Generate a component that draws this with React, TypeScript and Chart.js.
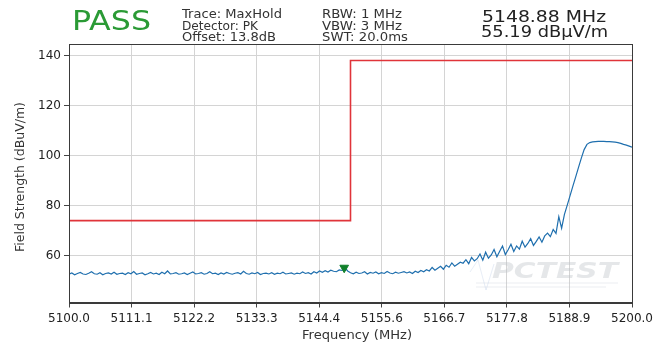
import React, { useEffect, useRef } from "react";
import { Chart, registerables } from "chart.js";

Chart.register(...registerables);

// ---- data ----
const FREQ_START = 5100; // MHz, first sweep point
const FREQ_STEP = 0.5; // MHz between sweep points
const TRACE_LEVEL = [
  // 5100.0 - 5109.5
  52.6, 53.1, 52.4, 52.9, 53.3, 52.7, 52.5, 53.0, 53.6, 52.8, 52.6, 53.2, 52.4, 52.9, 53.1, 52.7, 53.4, 52.6, 52.9, 53.0,
  // 5110.0 - 5119.5
  52.5, 53.2, 52.8, 53.7, 52.6, 52.9, 53.1, 52.4, 52.8, 53.3, 52.7, 53.0, 52.5, 53.4, 52.8, 53.9, 52.7, 52.9, 53.2, 52.6,
  // 5120.0 - 5129.5
  52.8, 53.1, 52.5, 53.0, 53.5, 52.7, 52.9, 53.2, 52.6, 52.9, 53.6, 52.8, 53.0, 52.5, 53.1, 52.7, 53.3, 52.9, 52.6, 53.0,
  // 5130.0 - 5139.5
  53.2, 52.7, 53.8, 52.9, 52.6, 53.1, 52.8, 53.3, 52.5, 52.9, 53.0, 52.7, 53.2, 52.6, 53.0, 52.8, 53.4, 52.7, 52.9, 53.1,
  // 5140.0 - 5149.5
  52.6, 53.0, 52.8, 53.5, 52.9, 53.2, 52.7, 53.6, 53.1, 53.9, 53.4, 54.0, 53.5, 54.2, 53.8, 53.6, 54.3, 54.1, 55.19, 53.9,
  // 5150.0 - 5159.5
  53.2, 52.8, 53.4, 52.9, 53.1, 53.6, 52.7, 53.3, 53.0, 53.5, 52.8, 53.2, 52.9, 53.7, 53.1, 52.8, 53.4, 53.0, 53.3, 53.6,
  // 5160.0 - 5169.5
  53.1, 53.5, 52.9, 53.8, 53.3, 54.1, 53.6, 54.4, 53.9, 55.3, 54.2, 55.0, 55.8, 54.6, 56.2, 55.4, 57.1, 55.8, 56.6, 57.4,
  // 5170.0 - 5179.5
  57.0, 58.4, 56.8, 59.3, 57.9, 58.8, 60.7, 58.2, 61.4, 59.0, 60.3, 62.5, 59.6, 61.8, 63.9, 60.5, 62.4, 64.6, 61.7, 63.9,
  // 5180.0 - 5189.5
  62.6, 65.8, 63.4, 64.9, 66.8, 64.1, 65.7, 67.5, 65.4, 67.9, 69.0, 67.6, 70.5, 68.9, 75.6, 71.0, 76.5, 80.2, 84.0, 87.8,
  // 5190.0 - 5199.5
  91.5, 95.3, 99.0, 102.4, 104.5, 105.2, 105.5, 105.6, 105.7, 105.7, 105.7, 105.6, 105.6, 105.5, 105.4, 105.2, 104.9, 104.5, 104.2, 103.8,
  // 5200.0
  103.4,
];

const LIMIT_FREQ = [5100, 5150, 5150, 5200];
const LIMIT_LEVEL = [74, 74, 138, 138];

const MARKER_FREQ = [5148.88];
const MARKER_LEVEL = [55.19];

const X_TICKS = [5100, 5111.11, 5122.22, 5133.33, 5144.44, 5155.56, 5166.67, 5177.78, 5188.89, 5200];
const X_TICK_LABELS = ["5100.0", "5111.1", "5122.2", "5133.3", "5144.4", "5155.6", "5166.7", "5177.8", "5188.9", "5200.0"];
const Y_TICKS = [60, 80, 100, 120, 140];

const HEADER_LEFT = ["Trace: MaxHold", "Detector: PK", "Offset: 13.8dB"];
const HEADER_MID = ["RBW: 1 MHz", "VBW: 3 MHz", "SWT: 20.0ms"];
const MARKER_TEXT = ["5148.88 MHz", "55.19 dBµV/m"];
const VERDICT = "PASS";

const FONT = '"DejaVu Sans", sans-serif';

function fitText(
  ctx: CanvasRenderingContext2D,
  text: string,
  x: number,
  y: number,
  width: number,
  size: number,
  color: string,
  opts: { align?: "left" | "center"; rotate?: boolean; style?: string } = {}
) {
  ctx.save();
  ctx.font = `${opts.style || ""} ${size}px ${FONT}`;
  const w = ctx.measureText(text).width;
  ctx.translate(x, y);
  if (opts.rotate) ctx.rotate(-Math.PI / 2);
  ctx.scale(width / w, 1);
  ctx.fillStyle = color;
  ctx.textBaseline = "alphabetic";
  ctx.textAlign = opts.align === "center" ? "center" : "left";
  ctx.fillText(text, 0, 0);
  ctx.restore();
}

const decorPlugin = {
  id: "decor",
  beforeDatasetsDraw(chart: any) {
    const ctx: CanvasRenderingContext2D = chart.ctx;
    // watermark
    ctx.save();
    fitText(ctx, "PCTEST", 492, 278, 126, 21, "rgba(190,194,200,0.4)", { style: "italic bold" });
    ctx.strokeStyle = "rgba(190,194,205,0.3)";
    ctx.lineWidth = 1;
    ctx.beginPath();
    ctx.moveTo(476, 283);
    ctx.lineTo(618, 283);
    ctx.moveTo(476, 287);
    ctx.lineTo(606, 287);
    ctx.stroke();
    ctx.strokeStyle = "rgba(160,185,220,0.25)";
    ctx.beginPath();
    ctx.moveTo(470, 272);
    ctx.lineTo(478, 260);
    ctx.lineTo(486, 290);
    ctx.lineTo(494, 264);
    ctx.stroke();
    ctx.restore();
  },
  afterDraw(chart: any) {
    const ctx: CanvasRenderingContext2D = chart.ctx;
    const a = chart.chartArea;
    // frame
    ctx.save();
    ctx.strokeStyle = "#3a3a3a";
    ctx.lineWidth = 1;
    ctx.strokeRect(Math.round(a.left) + 0.5, Math.round(a.top) + 0.5, Math.round(a.right - a.left), Math.round(a.bottom - a.top));
    ctx.restore();

    // header
    fitText(ctx, VERDICT, 72, 29.5, 79, 27, "#2a9a35");
    const lw = [100, 76, 94];
    HEADER_LEFT.forEach((t, i) => fitText(ctx, t, 182, 18 + i * 11.5, lw[i], 11.8, "#333333"));
    const mw = [80, 80, 86];
    HEADER_MID.forEach((t, i) => fitText(ctx, t, 322, 18 + i * 11.5, mw[i], 11.8, "#333333"));
    fitText(ctx, MARKER_TEXT[0], 482, 21.5, 124, 16.5, "#222222");
    fitText(ctx, MARKER_TEXT[1], 481, 36.5, 127, 16.5, "#222222");

    // axis titles
    fitText(ctx, "Frequency (MHz)", 357, 339, 110, 12, "#333333", { align: "center" });
    fitText(ctx, "Field Strength (dBuV/m)", 24, 177, 150, 11.5, "#333333", { align: "center", rotate: true });
  },
};

export default function App() {
  const ref = useRef<HTMLCanvasElement | null>(null);

  useEffect(() => {
    if (!ref.current) return;
    const trace = TRACE_LEVEL.map((y, i) => ({ x: FREQ_START + i * FREQ_STEP, y }));
    const limit = LIMIT_FREQ.map((x, i) => ({ x, y: LIMIT_LEVEL[i] }));
    const marker = MARKER_FREQ.map((x, i) => ({ x, y: MARKER_LEVEL[i] }));

    const chart = new Chart(ref.current, {
      type: "line",
      data: {
        datasets: [
          {
            label: "Marker",
            data: marker,
            showLine: false,
            pointStyle: "triangle",
            rotation: 180,
            pointRadius: 5,
            backgroundColor: "#10802a",
            borderColor: "#10802a",
            borderWidth: 1,
            order: 0,
          },
          {
            label: "Trace",
            data: trace,
            borderColor: "#1f6fae",
            borderWidth: 1.2,
            pointRadius: 0,
            tension: 0,
            order: 2,
          },
          {
            label: "Limit",
            data: limit,
            borderColor: "#e0343a",
            borderWidth: 1.6,
            pointRadius: 0,
            tension: 0,
            order: 1,
          },
        ],
      },
      options: {
        responsive: false,
        animation: false,
        parsing: true,
        layout: { padding: { top: 44, right: 34, left: 0, bottom: 0 } },
        plugins: {
          legend: { display: false },
          tooltip: { enabled: false },
          title: { display: false },
        },
        scales: {
          x: {
            type: "linear",
            min: 5100,
            max: 5200,
            afterBuildTicks: (s: any) => {
              s.ticks = X_TICKS.map((v) => ({ value: v }));
            },
            afterFit: (s: any) => {
              s.height = 40.5;
            },
            ticks: {
              autoSkip: false,
              maxRotation: 0,
              padding: 4,
              color: "#222222",
              font: { family: FONT, size: 12 },
              callback: (_v: any, i: number) => X_TICK_LABELS[i],
            },
            grid: { color: "#d4d4d4", tickColor: "#444444", tickLength: 5, lineWidth: 1 },
            border: { color: "#3a3a3a" },
          },
          y: {
            type: "linear",
            min: 41.3,
            max: 144.6,
            afterBuildTicks: (s: any) => {
              s.ticks = Y_TICKS.map((v) => ({ value: v }));
            },
            afterFit: (s: any) => {
              s.width = 69;
            },
            ticks: {
              padding: 3,
              color: "#222222",
              font: { family: FONT, size: 12 },
              callback: (v: any) => String(v),
            },
            grid: { color: "#d4d4d4", tickColor: "#444444", tickLength: 5, lineWidth: 1 },
            border: { color: "#3a3a3a" },
          },
        },
      },
      plugins: [decorPlugin],
    } as any);
    return () => chart.destroy();
  }, []);

  return (
    <div style={{ position: "absolute", left: 0, top: 0, width: 666, height: 343, background: "#ffffff" }}>
      <canvas ref={ref} width={666} height={343} style={{ display: "block", width: 666, height: 343 }} />
    </div>
  );
}
